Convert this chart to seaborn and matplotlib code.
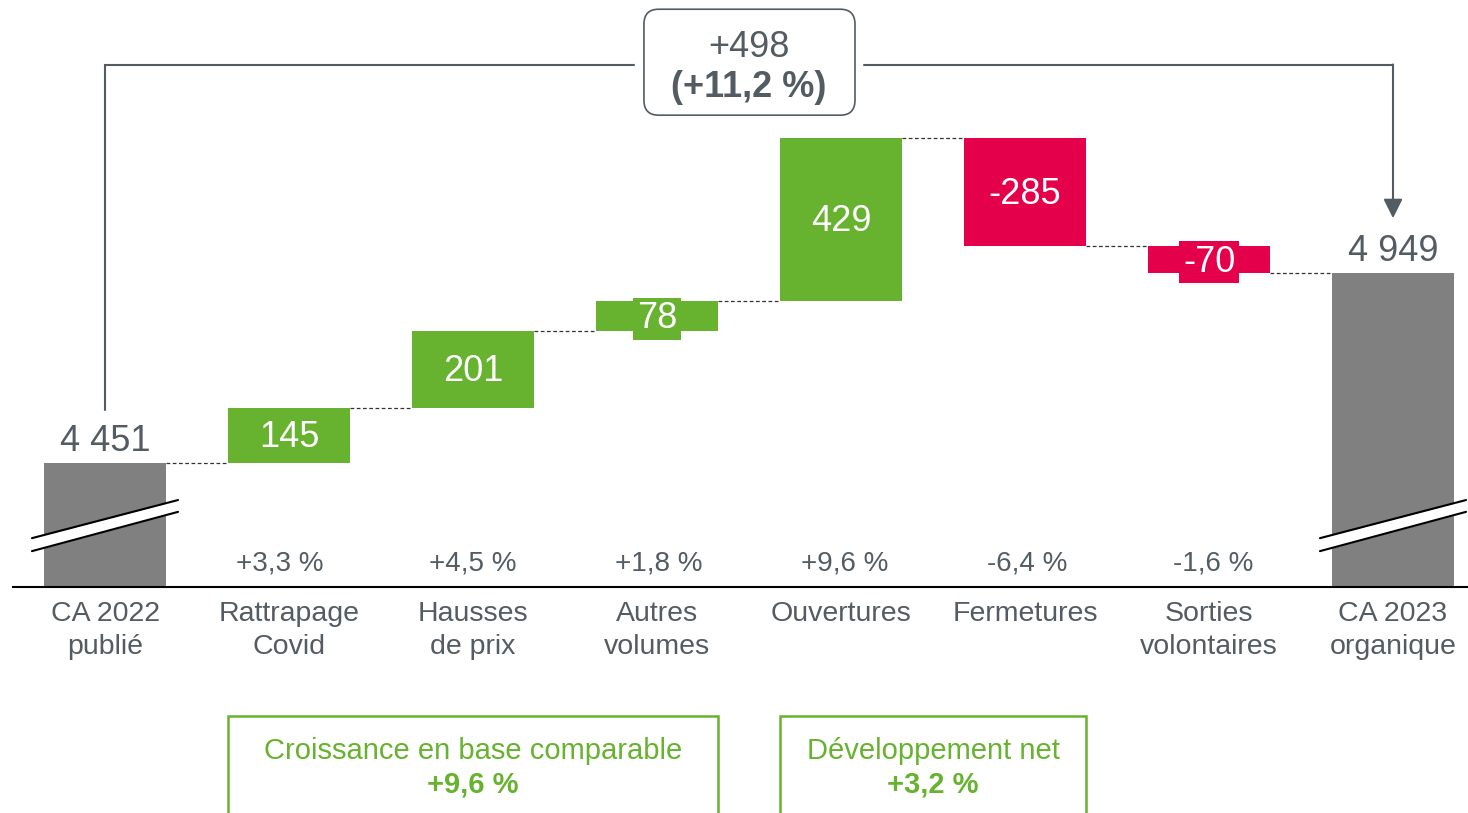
import matplotlib
matplotlib.use('Agg')
import matplotlib.pyplot as plt
import matplotlib.transforms as mtransforms
from matplotlib.patches import FancyBboxPatch, Rectangle
import seaborn as sns

# -----------------------------
# DATA
# -----------------------------
categories = ['CA 2022\npublié', 'Rattrapage\nCovid', 'Hausses\nde prix', 'Autres\nvolumes',
              'Ouvertures', 'Fermetures', 'Sorties\nvolontaires', 'CA 2023\norganique']
values = [4451, 145, 201, 78, 429, -285, -70, 4949]
is_total = [True, False, False, False, False, False, False, True]
value_labels = ['4 451', '145', '201', '78', '429', '-285', '-70', '4 949']
pct_labels = ['', '+3,3 %', '+4,5 %', '+1,8 %', '+9,6 %', '-6,4 %', '-1,6 %', '']
total_change = '+498'
total_change_pct = '(+11,2 %)'
group_titles = ['Croissance en base comparable', 'Développement net']
group_values = ['+9,6 %', '+3,2 %']
group_spans = [(1, 3), (4, 5)]

# -----------------------------
# STYLE
# -----------------------------
GREEN = '#67b22e'
RED = '#e5004b'
GRAY = '#808080'
TEXT = '#535c62'
BAR_W = 0.663
Y_FLOOR = 4126      # broken axis: value at the baseline
Y_TOP = 5665
# small horizontal nudges (points) of the percentage labels, as in the source slide
pct_nudge = [0, -7, 0, 1, 2.5, 1.5, 3, 0]

sns.set_style('white')
plt.rcParams['font.family'] = ['Liberation Sans', 'DejaVu Sans']

# -----------------------------
# WATERFALL GEOMETRY
# -----------------------------
bottoms, heights, levels, colors = [], [], [], []
level = 0
for v, tot in zip(values, is_total):
    if tot:
        bottoms.append(Y_FLOOR)
        heights.append(v - Y_FLOOR)
        level = v
        colors.append(GRAY)
    else:
        bottoms.append(min(level, level + v))
        heights.append(abs(v))
        level += v
        colors.append(GREEN if v > 0 else RED)
    levels.append(level)

fig = plt.figure(figsize=(14.68, 8.13), dpi=100)
ax = fig.add_axes([0, 0.278, 1, 0.722])

sns.barplot(x=categories, y=heights, hue=categories, palette=colors, legend=False,
            width=BAR_W, saturation=1, errorbar=None, linewidth=0, ax=ax, zorder=2)
bars = list(ax.patches)
for bar, b in zip(bars, bottoms):
    bar.set_y(b)

ax.set_xlim(-0.5707, 7.4076)
ax.set_ylim(Y_FLOOR, Y_TOP)
ax.set_xticks([])
ax.set_yticks([])
ax.set_xlabel('')
ax.set_ylabel('')
for side in ['left', 'right', 'top']:
    ax.spines[side].set_visible(False)
ax.spines['bottom'].set_bounds(-0.5, 7.4076)
ax.spines['bottom'].set_linewidth(1.5)
ax.spines['bottom'].set_color('black')

xaxis_tr = mtransforms.blended_transform_factory(ax.transData, ax.transAxes)

# connectors
for i in range(len(values) - 1):
    ax.plot([i + BAR_W / 2, i + 1 - BAR_W / 2], [levels[i], levels[i]],
            ls=(0, (3, 2)), lw=0.9, color='#333333', zorder=1)

# value labels
for i, (lbl, tot) in enumerate(zip(value_labels, is_total)):
    if tot:
        ax.annotate(lbl, (i, values[i]), xytext=(0, 9), textcoords='offset points',
                    ha='center', va='baseline', fontsize=26, color=TEXT)
    else:
        mid = bottoms[i] + heights[i] / 2
        bbox = None
        if heights[i] < 105:
            bbox = dict(boxstyle='square,pad=0.1', fc=colors[i], ec='none')
        ax.annotate(lbl, (i, mid), xytext=(0, -8.6), textcoords='offset points',
                    ha='center', va='baseline', fontsize=26, color='white',
                    bbox=bbox, zorder=5)

# percentages above axis
for i, p in enumerate(pct_labels):
    if p:
        ax.annotate(p, (i, 0.0273), xycoords=xaxis_tr, xytext=(pct_nudge[i], 0),
                    textcoords='offset points', ha='center', va='baseline',
                    fontsize=20, color=TEXT)

# category labels
for i, cat in enumerate(categories):
    for j, line in enumerate(cat.split('\n')):
        ax.text(i, -0.0579 - 0.0562 * j, line, transform=xaxis_tr, ha='center',
                va='baseline', fontsize=20.5, color=TEXT, clip_on=False)

# axis break marks
for i in (0, 7):
    xs = [i - 0.397, i + 0.397]
    upper = [4254, 4354]
    lower = [4220, 4323]
    ax.fill_between(xs, lower, upper, color='white', zorder=3, lw=0)
    ax.plot(xs, upper, color='black', lw=1.5, zorder=4)
    ax.plot(xs, lower, color='black', lw=1.5, zorder=4)

# top bracket
BRACKET_Y = 5494
ax.plot([0, 0, 2.875], [4590, BRACKET_Y, BRACKET_Y], color=TEXT, lw=1.5,
        solid_joinstyle='miter', clip_on=False)
ax.plot([4.125, 7], [BRACKET_Y, BRACKET_Y], color=TEXT, lw=1.5)
ax.annotate('', xy=(7, 5093), xytext=(7, BRACKET_Y + 2),
            arrowprops=dict(arrowstyle='-|>,head_length=0.58,head_width=0.29',
                            color=TEXT, lw=1.5, shrinkA=0, shrinkB=0,
                            mutation_scale=20))
ax.add_patch(FancyBboxPatch((2.929, 5363), 1.147, 277.8,
                            boxstyle='round,pad=0,rounding_size=0.08',
                            mutation_aspect=491, fc='white', ec=TEXT, lw=1.2,
                            zorder=4))
ax.text(3.5, 5515, total_change, ha='center', va='baseline', fontsize=26,
        color=TEXT, zorder=5)
ax.text(3.5, 5410, total_change_pct, ha='center', va='baseline', fontsize=26,
        fontweight='bold', color=TEXT, zorder=5)

# group boxes below
for title, val, (lo, hi) in zip(group_titles, group_values, group_spans):
    x0 = lo - BAR_W / 2
    x1 = hi + BAR_W / 2
    ax.add_patch(Rectangle((x0, -0.5), x1 - x0, 0.2802, transform=xaxis_tr,
                           fill=False, ec=GREEN, lw=1.8, clip_on=False))
    xc = (lo + hi) / 2
    ax.text(xc, -0.293, title, transform=xaxis_tr, ha='center', va='baseline',
            fontsize=21, color=GREEN, clip_on=False)
    ax.text(xc, -0.3509, val, transform=xaxis_tr, ha='center', va='baseline',
            fontsize=21, fontweight='bold', color=GREEN, clip_on=False)

fig.savefig('out.png', dpi=100)
